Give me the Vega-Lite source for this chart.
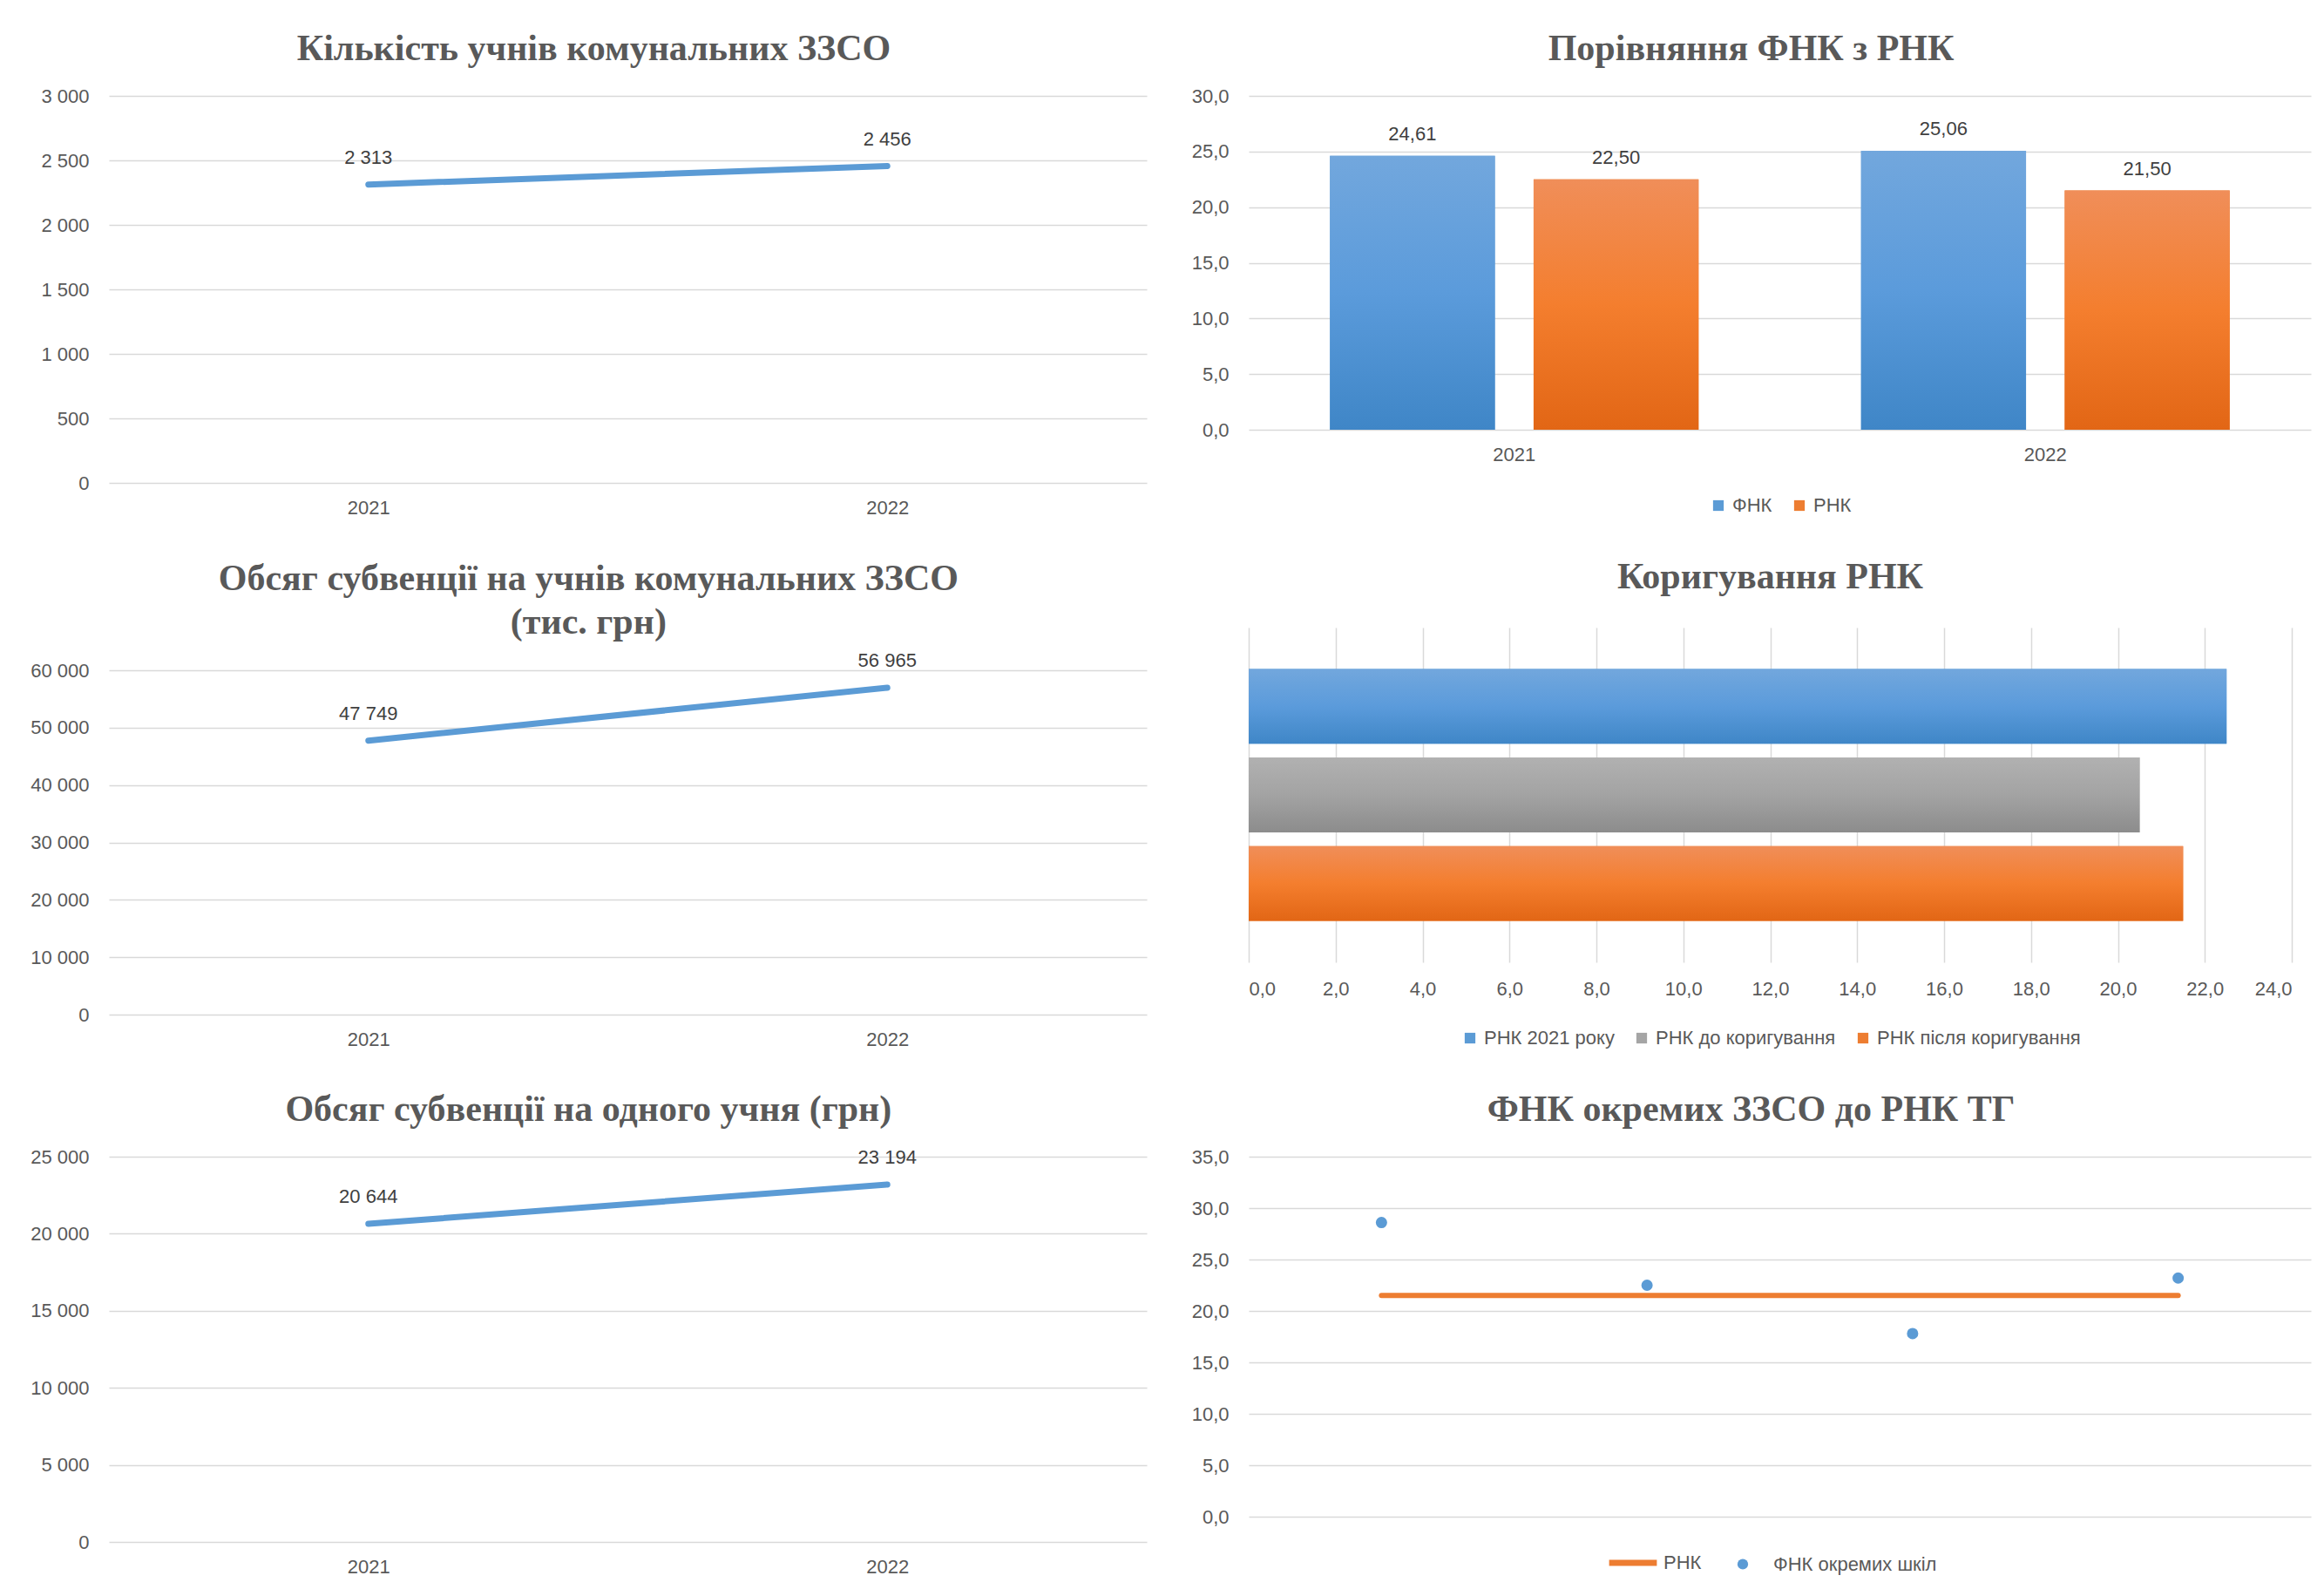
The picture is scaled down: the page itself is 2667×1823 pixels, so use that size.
{
  "$schema": "https://vega.github.io/schema/vega-lite/v6.json",
  "background": "white",
  "padding": {"left": 34, "top": 35, "right": 10, "bottom": 4},
  "datasets": {
    "pupils": [{"year": "2021", "value": 2313}, {"year": "2022", "value": 2456}],
    "subv": [{"year": "2021", "value": 47749}, {"year": "2022", "value": 56965}],
    "perpupil": [{"year": "2021", "value": 20644}, {"year": "2022", "value": 23194}],
    "fnk": [
      {"year": "2021", "series": "ФНК", "value": 24.61},
      {"year": "2021", "series": "РНК", "value": 22.5},
      {"year": "2022", "series": "ФНК", "value": 25.06},
      {"year": "2022", "series": "РНК", "value": 21.5}
    ],
    "corr": [
      {"label": "РНК 2021 року", "value": 22.5},
      {"label": "РНК до коригування", "value": 20.5},
      {"label": "РНК після коригування", "value": 21.5}
    ],
    "schools": [
      {"school": "1", "series": "РНК", "value": 21.5},
      {"school": "2", "series": "РНК", "value": 21.5},
      {"school": "3", "series": "РНК", "value": 21.5},
      {"school": "4", "series": "РНК", "value": 21.5},
      {"school": "1", "series": "ФНК окремих шкіл", "value": 28.6},
      {"school": "2", "series": "ФНК окремих шкіл", "value": 22.5},
      {"school": "3", "series": "ФНК окремих шкіл", "value": 17.8},
      {"school": "4", "series": "ФНК окремих шкіл", "value": 23.2}
    ]
  },
  "config": {
    "locale": {"number": {"decimal": ",", "thousands": " ", "grouping": [3], "currency": ["", ""]}},
    "view": {"stroke": null},
    "font": "Liberation Sans",
    "title": {"font": "Liberation Serif", "fontWeight": "bold", "fontSize": 42, "color": "#595959", "anchor": "middle", "frame": "bounds", "offset": 21, "lineHeight": 50},
    "axis": {"labelFont": "Liberation Sans", "labelFontSize": 22, "labelColor": "#595959", "domain": false, "ticks": false, "gridColor": "#D9D9D9", "gridWidth": 1.5},
    "axisX": {"labelAngle": 0, "labelPadding": 18},
    "axisY": {"labelPadding": 23},
    "legend": {"labelFont": "Liberation Sans", "labelFontSize": 22, "labelColor": "#595959", "labelLimit": 600, "layout": {"bottom": {"anchor": "middle"}}}
  },
  "spacing": 51,
  "resolve": {"scale": {"color": "independent", "fill": "independent"}, "legend": {"color": "independent", "fill": "independent"}},
  "hconcat": [
    {
      "spacing": 49,
      "align": "none",
      "vconcat": [
        {
          "width": 1191, "height": 444,
          "title": "Кількість учнів комунальних ЗЗСО",
          "data": {"name": "pupils"},
          "encoding": {
            "x": {"field": "year", "type": "ordinal", "title": null, "scale": {"type": "point", "padding": 0.5}, "axis": {"grid": false}},
            "y": {"field": "value", "type": "quantitative", "title": null, "scale": {"domain": [0, 3000], "nice": false}, "axis": {"values": [0, 500, 1000, 1500, 2000, 2500, 3000], "format": ",.0f"}}
          },
          "layer": [
            {"mark": {"type": "line", "color": "#5B9BD5", "strokeWidth": 7, "strokeCap": "round"}},
            {"mark": {"type": "text", "dy": -31, "fontSize": 22, "color": "#404040", "font": "Liberation Sans"}, "encoding": {"text": {"field": "value", "type": "quantitative", "format": ",.0f"}}}
          ]
        },
        {
          "width": 1191, "height": 395,
          "title": {"text": ["Обсяг субвенції на учнів комунальних ЗЗСО", "(тис. грн)"], "offset": 11},
          "data": {"name": "subv"},
          "encoding": {
            "x": {"field": "year", "type": "ordinal", "title": null, "scale": {"type": "point", "padding": 0.5}, "axis": {"grid": false}},
            "y": {"field": "value", "type": "quantitative", "title": null, "scale": {"domain": [0, 60000], "nice": false}, "axis": {"values": [0, 10000, 20000, 30000, 40000, 50000, 60000], "format": ",.0f"}}
          },
          "layer": [
            {"mark": {"type": "line", "color": "#5B9BD5", "strokeWidth": 7, "strokeCap": "round"}},
            {"mark": {"type": "text", "dy": -31, "fontSize": 22, "color": "#404040", "font": "Liberation Sans"}, "encoding": {"text": {"field": "value", "type": "quantitative", "format": ",.0f"}}}
          ]
        },
        {
          "width": 1191, "height": 442,
          "title": "Обсяг субвенції на одного учня (грн)",
          "data": {"name": "perpupil"},
          "encoding": {
            "x": {"field": "year", "type": "ordinal", "title": null, "scale": {"type": "point", "padding": 0.5}, "axis": {"grid": false}},
            "y": {"field": "value", "type": "quantitative", "title": null, "scale": {"domain": [0, 25000], "nice": false}, "axis": {"values": [0, 5000, 10000, 15000, 20000, 25000], "format": ",.0f"}}
          },
          "layer": [
            {"mark": {"type": "line", "color": "#5B9BD5", "strokeWidth": 7, "strokeCap": "round"}},
            {"mark": {"type": "text", "dy": -31, "fontSize": 22, "color": "#404040", "font": "Liberation Sans"}, "encoding": {"text": {"field": "value", "type": "quantitative", "format": ",.0f"}}}
          ]
        }
      ]
    },
    {
      "spacing": 50,
      "align": "none",
      "resolve": {"scale": {"color": "independent", "fill": "independent"}, "legend": {"color": "independent", "fill": "independent"}},
      "vconcat": [
        {
          "width": 1219, "height": 383,
          "title": "Порівняння ФНК з РНК",
          "data": {"name": "fnk"},
          "encoding": {
            "x": {"field": "year", "type": "nominal", "title": null, "scale": {"paddingInner": 0.306, "paddingOuter": 0.153}, "axis": {"grid": false}},
            "xOffset": {"field": "series", "type": "nominal", "sort": ["ФНК", "РНК"], "scale": {"paddingInner": 0.19}},
            "y": {"field": "value", "type": "quantitative", "title": null, "scale": {"domain": [0, 30], "nice": false}, "axis": {"values": [0, 5, 10, 15, 20, 25, 30], "format": ".1f"}}
          },
          "layer": [
            {"mark": {"type": "bar"}, "encoding": {"color": {"field": "series", "type": "nominal", "sort": ["ФНК", "РНК"], "scale": {"domain": ["ФНК", "РНК"], "range": ["#5B9BD5", "#ED7D31"]}, "legend": {"title": null, "orient": "bottom", "direction": "horizontal", "symbolType": "square", "symbolSize": 150, "columnPadding": 20, "labelOffset": 5, "offset": 37}}}},
            {"mark": {"type": "bar"}, "encoding": {"fill": {
              "condition": {"test": "datum.series === 'ФНК'", "value": {"gradient": "linear", "x1": 0, "y1": 0, "x2": 0, "y2": 1, "stops": [{"offset": 0, "color": "#72A7DD"}, {"offset": 0.5, "color": "#5B9BDB"}, {"offset": 1, "color": "#3F86C7"}]}},
              "value": {"gradient": "linear", "x1": 0, "y1": 0, "x2": 0, "y2": 1, "stops": [{"offset": 0, "color": "#F08E59"}, {"offset": 0.5, "color": "#F47E2E"}, {"offset": 1, "color": "#E26615"}]}
            }}},
            {"mark": {"type": "text", "dy": -25, "fontSize": 22, "color": "#404040", "font": "Liberation Sans"}, "encoding": {"text": {"field": "value", "type": "quantitative", "format": ".2f"}}}
          ]
        },
        {
          "width": 1197, "height": 384,
          "title": {"text": "Коригування РНК", "offset": 36},
          "data": {"name": "corr"},
          "encoding": {
            "y": {"field": "label", "type": "nominal", "sort": null, "scale": {"paddingInner": 0.156, "paddingOuter": 0.467}, "axis": null},
            "x": {"field": "value", "type": "quantitative", "title": null, "scale": {"domain": [0, 24], "nice": false}, "axis": {"values": [0, 2, 4, 6, 8, 10, 12, 14, 16, 18, 20, 22, 24], "format": ".1f", "grid": true, "labelPadding": 20}}
          },
          "layer": [
            {"mark": {"type": "bar"}, "encoding": {"color": {"field": "label", "type": "nominal", "sort": null, "scale": {"domain": ["РНК 2021 року", "РНК до коригування", "РНК після коригування"], "range": ["#5B9BD5", "#A5A5A5", "#ED7D31"]}, "legend": {"title": null, "orient": "bottom", "direction": "horizontal", "symbolType": "square", "symbolSize": 150, "columnPadding": 20, "labelOffset": 5, "offset": 35}}}},
            {"mark": {"type": "bar"}, "encoding": {"fill": {
              "condition": [
                {"test": "datum.label === 'РНК 2021 року'", "value": {"gradient": "linear", "x1": 0, "y1": 0, "x2": 0, "y2": 1, "stops": [{"offset": 0, "color": "#72A7DD"}, {"offset": 0.5, "color": "#5B9BDB"}, {"offset": 1, "color": "#3F86C7"}]}},
                {"test": "datum.label === 'РНК до коригування'", "value": {"gradient": "linear", "x1": 0, "y1": 0, "x2": 0, "y2": 1, "stops": [{"offset": 0, "color": "#B1B1B1"}, {"offset": 0.5, "color": "#A3A3A3"}, {"offset": 1, "color": "#8C8C8C"}]}}
              ],
              "value": {"gradient": "linear", "x1": 0, "y1": 0, "x2": 0, "y2": 1, "stops": [{"offset": 0, "color": "#F08E59"}, {"offset": 0.5, "color": "#F47E2E"}, {"offset": 1, "color": "#E26615"}]}
            }}}
          ]
        },
        {
          "width": 1219, "height": 413,
          "title": "ФНК окремих ЗЗСО до РНК ТГ",
          "data": {"name": "schools"},
          "encoding": {
            "x": {"field": "school", "type": "ordinal", "title": null, "scale": {"type": "point", "padding": 0.5}, "axis": null},
            "y": {"field": "value", "type": "quantitative", "title": null, "scale": {"domain": [0, 35], "nice": false}, "axis": {"values": [0, 5, 10, 15, 20, 25, 30, 35], "format": ".1f"}}
          },
          "layer": [
            {
              "transform": [{"filter": "datum.series === 'РНК'"}],
              "mark": {"type": "line", "strokeWidth": 6, "strokeCap": "round"},
              "encoding": {
                "color": {"field": "series", "type": "nominal", "scale": {"domain": ["РНК", "ФНК окремих шкіл"], "range": ["#ED7D31", "#5B9BD5"]}, "legend": {
                  "title": null, "orient": "bottom", "direction": "horizontal", "offset": 42, "symbolSize": 130, "columnPadding": 36, "labelOffset": 24,
                  "encode": {"symbols": {"update": {
                    "shape": {"signal": "datum.value === 'РНК' ? 'stroke' : 'circle'"},
                    "size": {"signal": "datum.value === 'РНК' ? 3000 : 150"},
                    "strokeWidth": {"signal": "datum.value === 'РНК' ? 7 : 0"},
                    "fill": {"signal": "datum.value === 'РНК' ? 'transparent' : '#5B9BD5'"},
                    "stroke": {"signal": "datum.value === 'РНК' ? '#ED7D31' : 'transparent'"},
                    "opacity": {"value": 1},
                    "fillOpacity": {"value": 1},
                    "strokeOpacity": {"value": 1}
                  }}}
                }}
              }
            },
            {
              "transform": [{"filter": "datum.series !== 'РНК'"}],
              "mark": {"type": "point", "filled": true, "size": 170, "opacity": 1, "color": "#5B9BD5"}
            }
          ]
        }
      ]
    }
  ]
}
